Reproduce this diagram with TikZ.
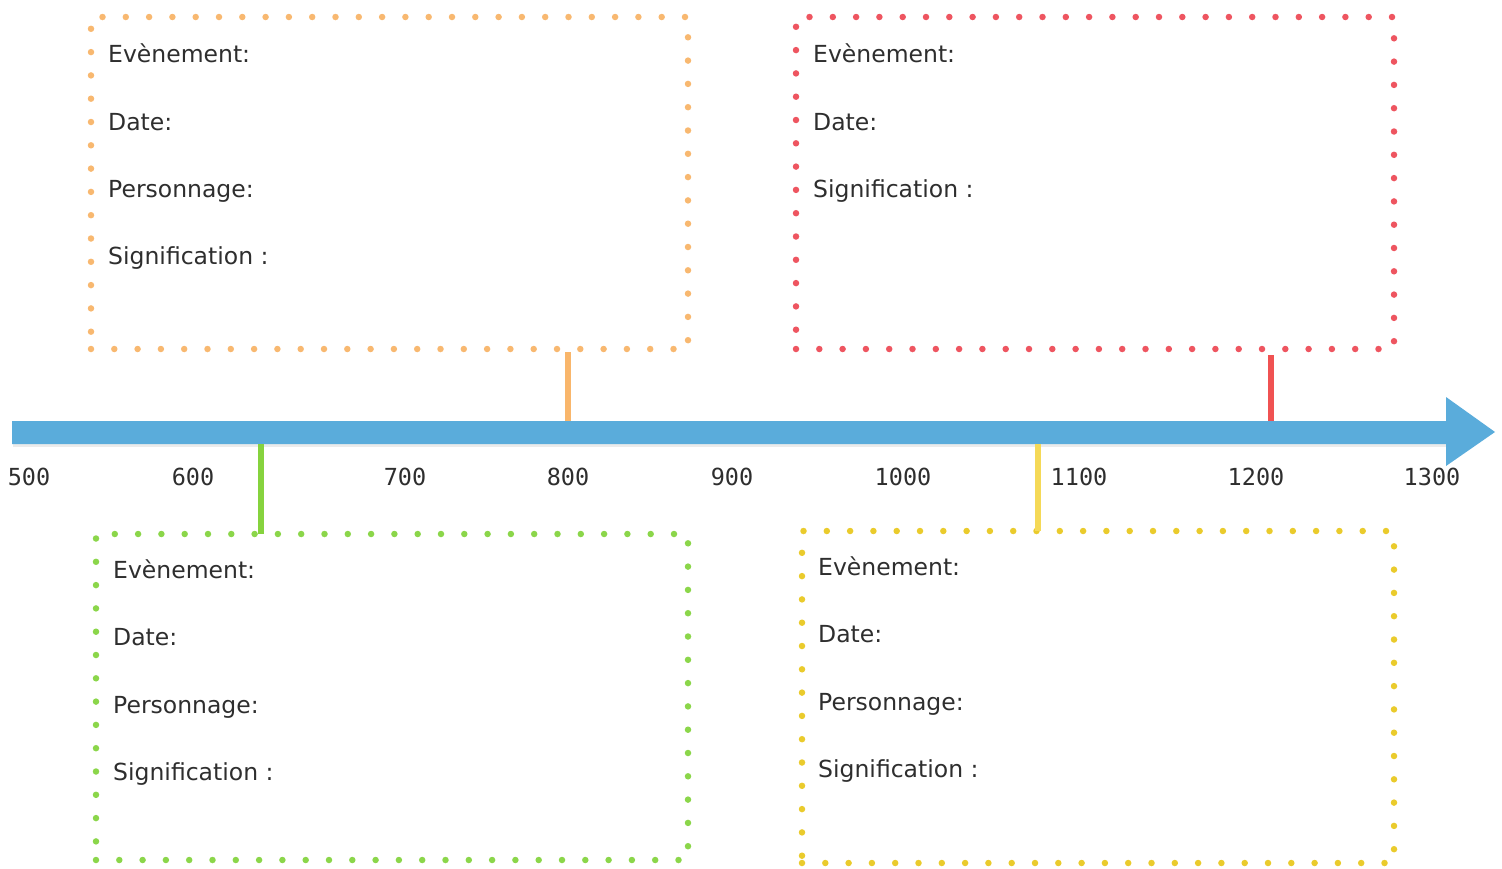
\documentclass[tikz,border=0pt]{standalone}
\usepackage{fontspec}
\setmainfont{DejaVu Sans}
\newfontfamily\monof{DejaVu Sans Mono}
\definecolor{arrowblue}{HTML}{5AACDB}
\definecolor{dotorange}{HTML}{F8B870}
\definecolor{dotred}{HTML}{EE5560}
\definecolor{dotgreen}{HTML}{8BD64A}
\definecolor{dotyellow}{HTML}{EACB2C}
\definecolor{tickorange}{HTML}{F9B66B}
\definecolor{tickred}{HTML}{F05252}
\definecolor{tickgreen}{HTML}{86D33E}
\definecolor{tickyellow}{HTML}{F5D957}
\definecolor{txt}{HTML}{2E2E2E}
\tikzset{
  dotbox/.style={rectangle, inner sep=0pt, outer sep=0pt, line width=6.5pt,
    line cap=round, dash pattern=on 0pt off 23.3pt, anchor=north west},
  lab/.style={font=\fontsize{23.5}{26}\selectfont, text=txt, inner sep=0pt, anchor=base west},
  year/.style={font=\monof\fontsize{23.5}{26}\selectfont, text=txt, inner sep=0pt},
  tickline/.style={line width=6pt}
}
\begin{document}
\begin{tikzpicture}[x=1pt,y=-1pt]
\useasboundingbox (0,0) rectangle (1502,868);
% arrow shadow and arrow
\fill[black!20, opacity=0.4] (13,423) -- (1446,423) -- (1446,446.5) -- (13,446.5) -- cycle;
\fill[arrowblue] (12,421) -- (1446,421) -- (1446,397) -- (1495,432) -- (1446,466) -- (1446,444) -- (12,444) -- cycle;
% boxes
\node[dotbox, draw=dotorange, minimum width=597pt, minimum height=332pt] (boxA) at (91,17) {};
\node[dotbox, draw=dotred, minimum width=598pt, minimum height=332pt] (boxB) at (796,17) {};
\node[dotbox, draw=dotgreen, minimum width=592pt, minimum height=326pt] (boxC) at (96,534) {};
\node[dotbox, draw=dotyellow, minimum width=592pt, minimum height=332pt] (boxD) at (802,531) {};
% tick points on axis
\coordinate (tA) at (568,421);
\coordinate (tB) at (1271,421);
\coordinate (tC) at (261,444);
\coordinate (tD) at (1038,444);
\draw[tickline, tickorange] (boxA.south -| tA) ++(0,3) -- (tA);
\draw[tickline, tickred] (boxB.south -| tB) ++(0,6) -- (tB);
\draw[tickline, tickgreen] (tC) -- (boxC.north -| tC);
\draw[tickline, tickyellow] (tD) -- (boxD.north -| tD);
% year labels
\node[year] (y500) at (29,477) {500};
\node[year] (y600) at (193,477) {600};
\node[year] (y700) at (405,477) {700};
\node[year] (y800) at (568,477) {800};
\node[year] (y900) at (732,477) {900};
\node[year] (y1000) at (903,477) {1000};
\node[year] (y1100) at (1079,477) {1100};
\node[year] (y1200) at (1256,477) {1200};
\node[year] (y1300) at (1432,477) {1300};
% box A texts
\node[lab] (a1) at (108,62) {Evènement:};
\node[lab] (a2) at (108,130) {Date:};
\node[lab] (a3) at (108,197) {Personnage:};
\node[lab] (a4) at (108,264) {Signification :};
% box B texts
\node[lab] (b1) at (813,62) {Evènement:};
\node[lab] (b2) at (813,130) {Date:};
\node[lab] (b3) at (813,197) {Signification :};
% box C texts
\node[lab] (c1) at (113,578) {Evènement:};
\node[lab] (c2) at (113,645) {Date:};
\node[lab] (c3) at (113,713) {Personnage:};
\node[lab] (c4) at (113,780) {Signification :};
% box D texts
\node[lab] (d1) at (818,575) {Evènement:};
\node[lab] (d2) at (818,642) {Date:};
\node[lab] (d3) at (818,710) {Personnage:};
\node[lab] (d4) at (818,777) {Signification :};
\end{tikzpicture}
\end{document}
